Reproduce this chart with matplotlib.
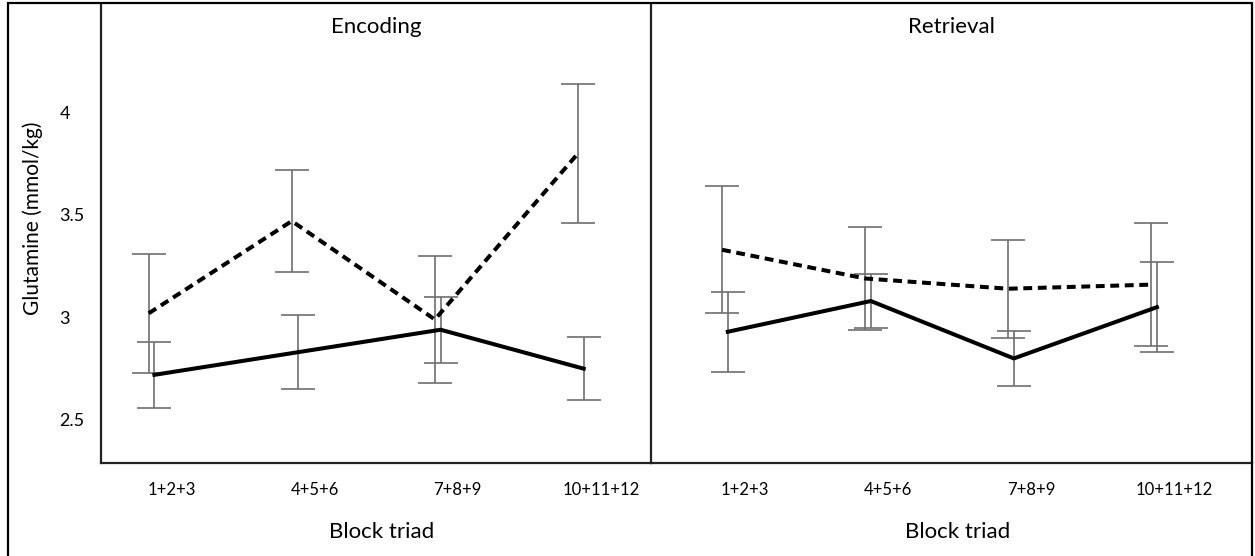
import matplotlib.pyplot as plt
import numpy as np
from matplotlib.patches import Rectangle

plt.rcParams['font.family'] = ['Lato', 'DejaVu Sans']

# 数据：四个 block triad，虚线组与实线组（均值与误差）
categories = ['1+2+3', '4+5+6', '7+8+9', '10+11+12']

enc_dashed = [3.02, 3.47, 2.99, 3.80]
enc_dashed_err = [0.29, 0.25, 0.31, 0.34]
enc_solid = [2.72, 2.83, 2.94, 2.75]
enc_solid_err = [0.16, 0.18, 0.16, 0.155]

ret_dashed = [3.33, 3.19, 3.14, 3.16]
ret_dashed_err = [0.31, 0.25, 0.24, 0.30]
ret_solid = [2.93, 3.08, 2.80, 3.05]
ret_solid_err = [0.195, 0.13, 0.135, 0.22]

y_ticks = [2.5, 3, 3.5, 4]


def draw_panel(ax, title, dashed, dashed_err, solid, solid_err, xlim):
    x = np.arange(len(categories))
    ax.errorbar(x - 0.02, dashed, yerr=dashed_err, fmt='none', ecolor='#6e6e6e',
                elinewidth=1.2, capsize=12.5, capthick=1.2, zorder=2)
    ax.errorbar(x + 0.02, solid, yerr=solid_err, fmt='none', ecolor='#6e6e6e',
                elinewidth=1.2, capsize=12.5, capthick=1.2, zorder=2)
    ax.plot(x - 0.02, dashed, color='black', lw=2.9, dashes=(2.2, 1.4), zorder=3)
    ax.plot(x + 0.02, solid, color='black', lw=2.9, zorder=3)

    ax.set_xlim(*xlim)
    ax.set_ylim(2.29, 4.524)
    ax.set_xticks(x + 0.14)
    ax.set_xticklabels(categories, fontsize=12)
    ax.tick_params(axis='x', length=0, pad=14)
    ax.spines['top'].set_visible(False)
    for s in ax.spines.values():
        s.set_linewidth(1.6)
        s.set_color('#222222')
    ax.text(0.5, 0.952, title, transform=ax.transAxes, ha='center', va='center', fontsize=16)
    ax.text(0.51, -0.151, 'Block triad', transform=ax.transAxes, ha='center', va='center', fontsize=16)


fig = plt.figure(figsize=(12.55, 5.56), dpi=100)
ax1 = fig.add_axes([0.0805, 0.1673, 0.4382, 0.8237])
ax2 = fig.add_axes([0.5187, 0.1673, 0.4789, 0.8237])
ax2.patch.set_visible(False)

draw_panel(ax1, 'Encoding', enc_dashed, enc_dashed_err, enc_solid, enc_solid_err, (-0.353, 3.49))
draw_panel(ax2, 'Retrieval', ret_dashed, ret_dashed_err, ret_solid, ret_solid_err, (-0.517, 3.685))

ax1.set_yticks(y_ticks)
ax1.set_yticklabels(['2.5', '3', '3.5', '4'], fontsize=13, ha='left')
ax1.tick_params(axis='y', length=0, pad=30)
ax1.set_ylabel('Glutamine (mmol/kg)', fontsize=15)
ax1.yaxis.set_label_coords(-0.105, 0.535)

ax2.set_yticks([])
ax2.spines['left'].set_visible(False)
ax2.spines['right'].set_visible(False)

# 外框
fig.patches.append(Rectangle((8 / 1255, -0.02), 1244 / 1255, 1.02 - 2.5 / 556, transform=fig.transFigure,
                             fill=False, edgecolor='black', lw=1.6))

plt.savefig('out.png', dpi=100)
